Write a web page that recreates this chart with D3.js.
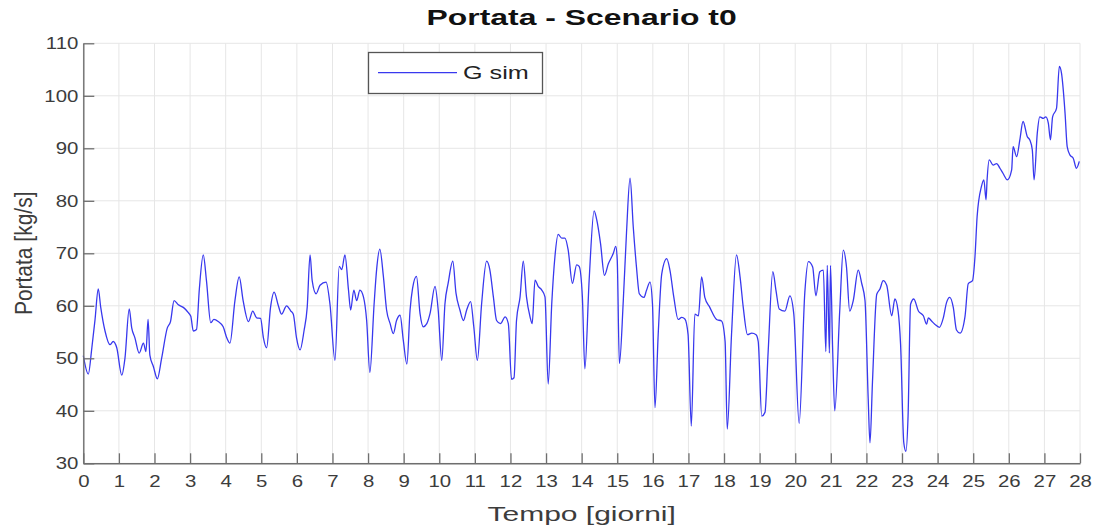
<!DOCTYPE html>
<html>
<head>
<meta charset="utf-8">
<script src="https://cdn.jsdelivr.net/npm/d3@7"></script>
<style>
  html, body { margin: 0; padding: 0; background: #fff; }
  svg { display: block; }
  text { font-family: "Liberation Sans", Arial, Helvetica, sans-serif; }
</style>
</head>
<body>
<svg id="chart" width="1098" height="529"></svg>
<script>
// ---- data ----
const titleText = "Portata - Scenario t0";
const xLabel = "Tempo [giorni]";
const yLabel = "Portata [kg/s]";
const seriesName = "G sim";
const xTicks = d3.range(0, 29, 1);
const yTicks = [30, 40, 50, 60, 70, 80, 90, 100, 110];

const days = [
  0.00,0.14,0.24,0.33,0.42,0.49,0.61,0.75,0.84,0.94,
  1.08,1.17,1.29,1.36,1.45,1.57,1.69,1.76,1.82,1.87,1.97,
  2.08,2.20,2.36,2.45,2.55,2.67,2.81,2.95,
  3.02,3.09,3.18,3.26,3.37,3.46,3.58,3.67,3.79,3.93,
  4.03,4.12,4.26,4.38,4.49,4.64,4.76,4.87,4.98,
  5.06,5.15,5.26,5.36,5.48,5.57,5.71,5.83,5.90,5.99,
  6.09,6.20,6.29,6.37,6.43,6.54,6.65,6.82,6.93,
  7.07,7.19,7.26,7.35,7.45,7.51,7.60,7.68,7.77,7.87,7.96,
  8.05,8.17,8.24,8.33,8.43,8.52,8.62,8.71,8.80,8.90,8.99,
  9.09,9.18,9.25,9.36,9.46,9.55,9.65,9.74,9.88,9.97,
  10.07,10.16,10.25,10.38,10.47,10.58,10.68,10.77,10.88,10.97,
  11.07,11.19,11.33,11.42,11.52,11.61,11.72,11.85,11.94,
  12.03,12.10,12.17,12.27,12.36,12.45,12.55,12.61,12.69,12.78,12.88,12.97,
  13.06,13.16,13.25,13.34,13.44,13.53,13.62,13.74,13.86,13.93,
  14.02,14.09,14.21,14.35,14.42,14.53,14.64,14.75,14.89,14.96,
  15.00,15.06,15.17,15.26,15.36,15.45,15.54,15.62,15.75,15.82,15.92,15.99,
  16.06,16.15,16.25,16.39,16.48,16.59,16.71,16.81,16.90,16.99,
  17.08,17.18,17.28,17.37,17.46,17.60,17.79,17.93,
  18.03,18.09,18.21,18.35,18.45,18.54,18.66,18.78,18.90,18.96,
  19.06,19.15,19.24,19.37,19.46,19.55,19.71,19.85,19.96,
  20.11,20.27,20.37,20.49,20.58,20.69,20.79,20.86,20.90,20.96,20.99,
  21.05,21.11,21.25,21.35,21.44,21.53,21.63,21.77,21.87,21.96,
  22.05,22.10,22.17,22.29,22.38,22.47,22.57,22.71,22.80,22.89,22.96,
  23.05,23.11,23.17,23.24,23.33,23.46,23.60,23.69,23.74,23.83,23.92,
  24.05,24.16,24.25,24.34,24.44,24.53,24.63,24.77,24.86,24.98,
  25.05,25.11,25.23,25.30,25.36,25.39,25.45,25.56,25.66,25.75,25.84,25.96,
  26.08,26.12,26.22,26.31,26.40,26.52,26.59,26.66,26.71,26.80,26.87,26.97,
  27.04,27.11,27.17,27.23,27.34,27.42,27.48,27.58,27.64,27.72,27.81,27.90,27.98
];

const portata = [
  50.5,47.0,52.0,57.4,63.2,59.7,55.2,52.6,53.2,52.0,
  46.8,50.0,59.4,55.8,53.9,51.0,52.9,51.3,57.4,50.6,48.4,
  46.1,50.0,55.8,57.0,61.0,60.2,59.7,58.7,
  58.0,55.2,55.5,63.2,69.7,64.8,56.8,57.4,57.0,56.0,
  53.9,52.9,61.0,65.5,61.0,57.0,59.0,57.7,57.6,
  53.9,52.0,59.7,62.6,60.0,58.4,60.0,59.0,58.4,53.9,
  51.6,55.2,59.7,69.7,64.8,62.3,63.9,64.5,60.3,
  49.6,67.5,66.9,69.7,63.0,59.2,63.0,61.0,63.0,61.7,57.2,
  47.3,60.4,66.9,70.8,65.6,59.2,56.6,54.7,57.2,58.2,53.4,
  48.9,59.2,63.3,65.6,58.5,56.0,56.6,58.5,63.7,59.2,
  49.6,60.4,64.3,68.5,62.4,59.2,57.2,59.2,60.8,56.0,
  49.6,60.4,68.5,66.9,61.7,57.2,56.6,57.9,56.6,
  46.0,46.3,57.2,61.7,68.5,61.7,57.9,56.6,64.9,63.7,63.0,61.7,
  45.1,60.4,69.4,73.6,72.9,72.9,70.7,64.3,67.8,67.5,
  61.7,48.0,64.8,78.1,76.5,71.9,65.8,68.0,70.0,71.3,
  68.7,49.0,61.0,73.9,84.3,75.0,67.4,62.3,61.6,62.9,64.5,60.3,
  40.6,54.5,66.1,69.0,66.8,61.6,57.4,57.8,57.5,54.5,
  37.1,58.4,58.1,65.5,61.6,59.7,57.4,57.1,
  53.2,36.5,54.5,69.7,65.5,59.7,54.5,54.8,54.5,53.2,
  39.0,39.7,51.3,66.5,62.9,59.4,59.0,61.9,58.4,
  37.6,62.6,68.4,67.4,61.9,66.5,66.8,51.3,67.7,51.0,67.7,
  52.0,40.0,59.0,70.6,67.4,59.0,61.0,66.8,64.2,61.0,
  42.3,33.9,45.5,62.2,63.2,64.8,63.9,58.1,61.3,59.0,52.6,
  33.9,32.3,39.0,60.3,61.3,59.0,58.1,56.5,57.7,57.1,56.5,
  55.9,57.7,60.6,61.6,59.7,55.4,54.8,58.0,64.2,64.8,
  69.4,77.0,82.7,84.0,80.2,84.0,87.8,86.8,87.1,86.2,85.2,84.0,
  85.9,90.3,88.4,91.6,95.1,92.2,91.6,89.7,84.0,92.9,96.0,95.7,
  96.0,94.8,91.6,96.0,97.6,105.6,104.3,96.7,90.3,88.7,88.1,86.2,87.5
];

// ---- layout ----
const svg = d3.select("#chart");
const L = 83.3, R = 1080, T = 43.3, B = 463.3;
const x = d3.scaleLinear().domain([0, 28]).range([L, R]);
const y = d3.scaleLinear().domain([30, 110]).range([B, T]);
const axisCol = "#6e6e6e", textCol = "#3c3c3c";
const lineCol = "#3838ee";
const tickFs = 17, tickSx = 1.2;

// grid
const g = svg.append("g");
g.selectAll("line.vg").data(xTicks).enter().append("line")
  .attr("x1", d => x(d)).attr("x2", d => x(d)).attr("y1", T).attr("y2", B)
  .attr("stroke", "#e6e6e6").attr("stroke-width", 1);
g.selectAll("line.hg").data(yTicks).enter().append("line")
  .attr("x1", L).attr("x2", R).attr("y1", d => y(d)).attr("y2", d => y(d))
  .attr("stroke", "#e6e6e6").attr("stroke-width", 1);

// series line
const line = d3.line().curve(d3.curveMonotoneX)
  .x((d, i) => x(days[i])).y((d, i) => y(portata[i]));
svg.append("path").datum(portata)
  .attr("d", line).attr("fill", "none")
  .attr("stroke", lineCol).attr("stroke-width", 1.3)
  .attr("stroke-linejoin", "round");

// axes (ticks inward, MATLAB style)
const xAxis = d3.axisBottom(x).tickValues(xTicks).tickFormat(d3.format("d"))
  .tickSizeInner(-10).tickSizeOuter(0).tickPadding(12);
const gx = svg.append("g").attr("transform", `translate(0,${B})`).call(xAxis);
const yAxis = d3.axisLeft(y).tickValues(yTicks).tickFormat(d3.format("d"))
  .tickSizeInner(-11).tickSizeOuter(0).tickPadding(5);
const gy = svg.append("g").attr("transform", `translate(${L},0)`).call(yAxis);
[gx, gy].forEach(a => {
  a.select(".domain").attr("stroke", axisCol).attr("stroke-width", 1.4);
  a.selectAll(".tick line").attr("stroke", axisCol).attr("stroke-width", 1.3);
  a.selectAll(".tick text").attr("fill", textCol)
    .style("font-size", tickFs + "px")
    .style("font-family", "'Liberation Sans', Arial, sans-serif");
});
gx.selectAll(".tick text").attr("transform", `scale(${tickSx},1)`);
gy.selectAll(".tick text").attr("x", -5 / tickSx).attr("transform", `scale(${tickSx},1)`);

// title and labels (reference text is horizontally stretched)
const cx = (L + R) / 2;
svg.append("text").attr("transform", `translate(${cx},25) scale(1.45,1)`)
  .attr("text-anchor", "middle").attr("font-weight", "bold")
  .attr("font-size", 22).attr("fill", "#111").text(titleText);
svg.append("text").attr("transform", `translate(${cx},521) scale(1.5,1)`)
  .attr("text-anchor", "middle").attr("font-size", 20)
  .attr("fill", textCol).text(xLabel);
svg.append("text").attr("transform", `translate(32,${(T + B) / 2}) scale(1.15,1) rotate(-90)`)
  .attr("text-anchor", "middle").attr("font-size", 21)
  .attr("fill", textCol).text(yLabel);

// legend
const lg = svg.append("g");
lg.append("rect").attr("x", 368.5).attr("y", 52.5).attr("width", 174).attr("height", 41)
  .attr("fill", "#fff").attr("stroke", "#555").attr("stroke-width", 1.3);
lg.append("line").attr("x1", 378).attr("x2", 457).attr("y1", 72.7).attr("y2", 72.7)
  .attr("stroke", lineCol).attr("stroke-width", 1.3);
lg.append("text").attr("transform", "translate(463,79) scale(1.4,1)")
  .attr("font-size", 18).attr("fill", "#222").text(seriesName);
</script>
</body>
</html>
